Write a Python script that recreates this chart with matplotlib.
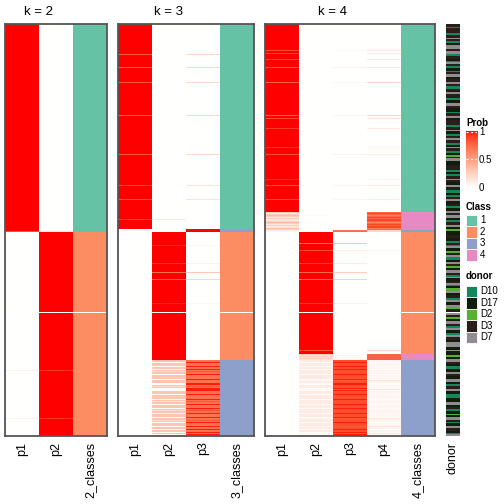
import numpy as np
import matplotlib.pyplot as plt
from matplotlib.patches import Rectangle

plt.rcParams['font.family'] = ['Liberation Sans', 'DejaVu Sans']

# ---- data (rows ordered top to bottom) ----
class_colors = {1: '#66C2A5', 2: '#FC8D62', 3: '#8DA0CB', 4: '#E78AC3'}
class_names = ['1', '2', '3', '4']

donor_names = ['D10', 'D17', 'D2', 'D3', 'D7']
donor_colors = ['#16875C', '#111E0C', '#55B030', '#2B1E1A', '#918C92']
donor_codes = {'A': 'D10', 'B': 'D17', 'C': 'D2', 'D': 'D3', 'E': 'D7', 'W': None}
donor_runs = (
    "C1 D3 A1 D5 A2 D3 E1 D2 A2 B2 E4 D2 E3 A2 D3 B2 A1 E2 D2 A2 B3 A1 D2 E3 B2 "
    "D3 E2 D2 A3 D2 B1 E2 D4 A2 B3 E3 D2 B4 A1 D3 E2 B2 D5 A2 D3 E1 B3 "
    "A2 D2 E2 D3 A2 B2 E1 D3 A2 B2 C2 D1 E3 B4 D5 A2 B2 A2 D3 E1 D2 B3 E2 D3 A3 "
    "B2 A2 D2 E2 B3 D2 A2 B3 E2 D2 E3 B2 A2 D3 E2 B2 C2 B4 D3 "
    "B3 A2 D2 A1 E2 B3 C2 D2 E2 A3 B2 E2 D2 C2 B2 E3 D2 A2 E1 B3 D2 E2 A1 B2 C3 "
    "E2 B2 D3 A2 E2 B3 E2 C2 D3 W1 "
    "E2 D2 C2 B2 E3 D2 A2 E2 B3 A2 E2 D3 B2 E3 "
    "E2 B3 E1 B4 C2 B2 E3 D2 B2 A3 B3 E2 D2 B3 E3 B2 A2 D3 E2 B3 A4 B4 E3 B2 D2 "
    "A2 B3 C1 B2 E3 D2 A1 B3 E2 D3 B2 A1 E2"
)
missing_row = 289

# k = 2
k2_class_runs = [(1, 209), (2, 204)]
k2_changes = {208: [0.85, 0.15], 347: [0.08, 0.92], 395: [0.08, 0.92]}

# k = 3
k3_class_runs = [(1, 206), (3, 3), (2, 128), (3, 76)]
k3_changes = {31: [0.8, 0, 0.2], 44: [0.8, 0, 0.2], 59: [0.8, 0, 0.2],
              92: [0.8, 0, 0.2], 131: [0.8, 0, 0.2], 162: [0.85, 0, 0.15],
              176: [0.85, 0, 0.15], 196: [0.88, 0.12, 0],
              222: [0, 0.95, 0.05], 240: [0, 0.93, 0.07], 249: [0, 0.7, 0.3],
              256: [0, 0.8, 0.2], 280: [0, 0.96, 0.04]}
k3_codes = {'a': [0, 0.3, 0.7], 'b': [0, 0.03, 0.97], 'c': [0, 0.18, 0.82]}
k3_patterns = [(337, "aabaaabaabacaabaaaabaaabbacabbbaaabaaaab"
                     "acaabaaabacaabaaabaacabaaabaabaababa")]

# k = 4
k4_class_runs = [(1, 189), (4, 18), (3, 2), (2, 122), (4, 6), (3, 76)]
k4_changes = {27: [0.85, 0, 0.03, 0.12], 30: [0.88, 0, 0, 0.12],
              36: [0.88, 0, 0, 0.12], 44: [0.8, 0, 0.08, 0.12],
              59: [0.75, 0, 0.05, 0.2], 92: [0.75, 0, 0.05, 0.2],
              95: [0.88, 0, 0, 0.12], 105: [0.9, 0, 0, 0.1],
              124: [0.93, 0, 0, 0.07], 131: [0.82, 0, 0.08, 0.1],
              156: [0.93, 0, 0.02, 0.05], 162: [0.82, 0, 0.06, 0.12],
              176: [0.85, 0, 0.05, 0.1],
              207: [0.1, 0, 0.7, 0.2], 208: [0.05, 0, 0.75, 0.2],
              220: [0, 0.7, 0.3, 0], 227: [0, 0.85, 0.1, 0.05],
              240: [0, 0.9, 0.1, 0], 249: [0, 0.75, 0.25, 0],
              256: [0, 0.75, 0.25, 0], 280: [0, 0.92, 0.08, 0],
              327: [0, 0.8, 0, 0.2]}
k4_codes = {'d': [0.25, 0, 0, 0.75], 'e': [0.12, 0, 0, 0.88], 'f': [0.35, 0.02, 0, 0.63],
            'g': [0, 0.25, 0, 0.75], 'h': [0, 0.15, 0.05, 0.8],
            'a': [0, 0.1, 0.85, 0.05], 'b': [0, 0.02, 0.97, 0.01], 'c': [0, 0.05, 0.8, 0.15]}
k4_patterns = [(189, "dedfdedeedfdedeefd"), (331, "ghghgh"),
               (337, "aabaaabaabaaaabaaaabcaabbaaabcbaaabaaaab"
                     "aaaabaaabaaaabaaabcaaabaaacaabaabcba")]


# ---- colours ----
def lab_to_rgb(L, a, b):
    fy = (L + 16) / 116
    fx = fy + a / 500
    fz = fy - b / 200

    def finv(t):
        return np.where(t ** 3 > 0.008856, t ** 3, (t - 16 / 116) / 7.787)

    X = 0.95047 * finv(fx)
    Y = finv(fy)
    Z = 1.08883 * finv(fz)
    r = 3.2406 * X - 1.5372 * Y - 0.4986 * Z
    g = -0.9689 * X + 1.8758 * Y + 0.0415 * Z
    bl = 0.0557 * X - 0.2040 * Y + 1.0570 * Z
    rgb = np.clip(np.stack([r, g, bl], -1), 0, None)
    rgb = np.where(rgb > 0.0031308, 1.055 * rgb ** (1 / 2.4) - 0.055, 12.92 * rgb)
    return np.clip(rgb, 0, 1)


def prob_color(p):
    t = np.asarray(p, dtype=float)
    return lab_to_rgb(100 + t * (53.24 - 100), t * 80.09, t * 67.20)


def hex_rgb(h):
    h = h.lstrip('#')
    return [int(h[i:i + 2], 16) / 255 for i in (0, 2, 4)]


def build(k, class_runs, changes, patterns, codes):
    cls = np.concatenate([[c] * n for c, n in class_runs])
    prob = np.zeros((len(cls), k))
    prob[np.arange(len(cls)), cls - 1] = 1
    for row, vals in changes.items():
        prob[row] = vals
    for start, pat in patterns:
        for i, ch in enumerate(pat):
            prob[start + i] = codes[ch]
    img = np.concatenate([prob_color(prob),
                          np.array([hex_rgb(class_colors[c]) for c in cls])[:, None, :]], axis=1)
    img[missing_row] = 1
    return img


donor = []
for tok in donor_runs.split():
    donor += [donor_codes[tok[0]]] * int(tok[1:])
donor_img = np.array([[hex_rgb(donor_colors[donor_names.index(d)]) if d else [1, 1, 1]]
                      for d in donor])

fig = plt.figure(figsize=(5.04, 5.04), dpi=100)
W = 504.0


def ax_at(x0, y0, x1, y1):
    return fig.add_axes([x0 / W, 1 - y1 / W, (x1 - x0) / W, (y1 - y0) / W])


top, bottom = 23.5, 436
panels = [(2, 5, 107, k2_class_runs, k2_changes, [], {}),
          (3, 118, 254, k3_class_runs, k3_changes, k3_patterns, k3_codes),
          (4, 265, 435, k4_class_runs, k4_changes, k4_patterns, k4_codes)]

for k, x0, x1, runs, changes, pats, codes in panels:
    img = build(k, runs, changes, pats, codes)
    ax = ax_at(x0, top, x1, bottom)
    ax.imshow(img, aspect='auto', interpolation='nearest',
              extent=(0, k + 1, img.shape[0], 0))
    ax.set_xticks(np.arange(k + 1) + 0.5)
    ax.set_xticklabels([f'p{i + 1}' for i in range(k)] + [f'{k}_classes'],
                       rotation=90, fontsize=9)
    ax.tick_params(length=0, pad=4)
    ax.set_yticks([])
    for s in ax.spines.values():
        s.set_color('#555555')
        s.set_linewidth(1.3)
    cx = x0 + (x1 - x0) * k / (k + 1) / 2
    fig.text(cx / W, 1 - 12 / W, f'k = {k}', ha='center', va='center', fontsize=9.5)

axd = ax_at(446, top, 460, bottom)
axd.imshow(donor_img, aspect='auto', interpolation='nearest',
           extent=(0, 1, len(donor), 0))
axd.set_xticks([0.5])
axd.set_xticklabels(['donor'], rotation=90, fontsize=9)
axd.tick_params(length=0, pad=4)
axd.set_yticks([])
for s in axd.spines.values():
    s.set_visible(False)

# colour bar legend
axc = ax_at(466, 131, 477, 187)
grad = np.linspace(1, 0, 200)
axc.imshow(prob_color(grad)[:, None, :], aspect='auto', extent=(0, 1, 0, 1))
for v in (1, 0.5):
    axc.plot([0, 1], [v - 0.01 if v == 1 else v] * 2, color='white', lw=0.8, ls=(0, (2, 2)))
axc.set_xlim(0, 1)
axc.set_ylim(0, 1)
axc.axis('off')

leg = fig.add_axes([0, 0, 1, 1], zorder=5)
leg.set_xlim(0, W)
leg.set_ylim(W, 0)
leg.axis('off')
leg.text(466, 123, 'Prob', fontsize=7, fontweight='bold', va='center')
for v, y in [('1', 132), ('0.5', 160), ('0', 188)]:
    leg.text(479, y, v, fontsize=7, va='center')

leg.text(466, 207, 'Class', fontsize=7, fontweight='bold', va='center')
for i, name in enumerate(class_names):
    y = 214.5 + i * 11.5
    leg.add_patch(Rectangle((466, y), 11, 11.5, facecolor=class_colors[i + 1],
                            edgecolor='white', lw=0.6))
    leg.text(480, y + 5.75, name, fontsize=7, va='center')

leg.text(466, 276, 'donor', fontsize=7, fontweight='bold', va='center')
for i, name in enumerate(donor_names):
    y = 285.5 + i * 11.5
    leg.add_patch(Rectangle((466, y), 11, 11.5, facecolor=donor_colors[i],
                            edgecolor='white', lw=0.6))
    leg.text(480, y + 5.75, name, fontsize=7, va='center')

fig.savefig('out.png', dpi=100)
